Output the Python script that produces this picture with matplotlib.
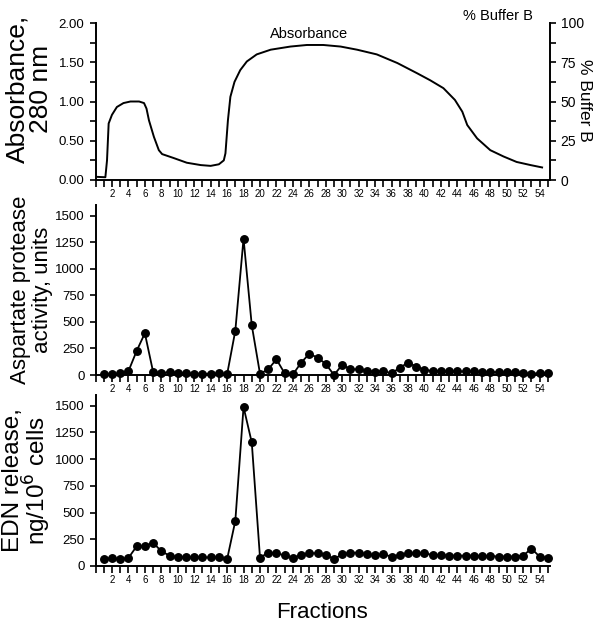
import numpy as np
import matplotlib
matplotlib.use("Agg")
import matplotlib.pyplot as plt
from matplotlib.ticker import MultipleLocator, FixedLocator

plt.rcParams['font.family'] = ['Liberation Sans', 'DejaVu Sans']

# fractions collected
fractions = np.arange(1, 56)

# aspartate protease activity, units
protease = [5, 5, 15, 35, 226, 393, 31, 15, 30, 20,
            15, 12, 12, 12, 15, 5, 417, 1284, 468, 12,
            53, 148, 15, 5, 116, 200, 163, 104, 0, 97,
            53, 53, 38, 31, 38, 15, 69, 116, 79, 48,
            38, 38, 33, 33, 33, 33, 30, 30, 25, 25,
            25, 20, 10, 20, 15]

# EDN release, ng/10^6 cells
edn = [63, 75, 63, 75, 184, 184, 219, 138, 97, 84,
       80, 80, 80, 80, 80, 63, 422, 1488, 1156, 78,
       125, 119, 100, 75, 103, 119, 119, 103, 66, 109,
       125, 125, 109, 103, 109, 88, 103, 119, 119, 119,
       103, 103, 97, 97, 97, 97, 94, 94, 88, 88,
       88, 97, 163, 88, 75]

# absorbance trace (280 nm)
abs_x = [0.2, 1.2, 1.4, 1.6, 2.0, 2.6, 3.4, 4.25, 5.3, 5.9, 6.2, 6.5, 7.1, 7.7,
         8.1, 9.5, 11.1, 12.8, 14.0, 15.0, 15.6, 15.8, 16.1, 16.4, 16.9, 17.6,
         18.4, 19.6, 21.3, 23.7, 25.7, 27.7, 29.8, 31.8, 34.2, 36.7, 39.1, 40.7,
         42.3, 43.7, 44.6, 45.2, 46.4, 48.0, 49.6, 51.2, 52.9, 54.3]
abs_y = [0.04, 0.035, 0.25, 0.72, 0.83, 0.93, 0.98, 1.0, 1.0, 0.98, 0.91, 0.76,
         0.55, 0.38, 0.33, 0.28, 0.22, 0.19, 0.18, 0.20, 0.25, 0.34, 0.76, 1.06,
         1.25, 1.40, 1.51, 1.60, 1.66, 1.70, 1.72, 1.72, 1.70, 1.66, 1.60, 1.49,
         1.36, 1.27, 1.17, 1.02, 0.87, 0.70, 0.53, 0.38, 0.30, 0.23, 0.19, 0.16]

W, H = 602, 622
fig = plt.figure(figsize=(W / 100, H / 100), dpi=100)

left = 95.5 / W
width = 454 / W
ax1 = fig.add_axes([left, 1 - 180 / H, width, 157 / H])
ax2 = fig.add_axes([left, 1 - 375 / H, width, 170 / H])
ax3 = fig.add_axes([left, 1 - 566 / H, width, 171 / H])

label_x = -0.094  # right edge of the two-line y labels


def style_x(ax):
    ax.set_xlim(0, 55.2)
    ax.xaxis.set_major_locator(FixedLocator(np.arange(2, 55, 2)))
    ax.xaxis.set_minor_locator(FixedLocator(np.arange(0, 56, 1)))
    ax.tick_params(axis='x', which='both', direction='out', length=5,
                   width=1.2, labelsize=7, pad=1.5)
    ax.tick_params(axis='y', which='both', direction='out', length=4,
                   width=1.2, labelsize=9.5, pad=4)
    for s in ['top', 'right']:
        ax.spines[s].set_visible(False)
    for s in ['left', 'bottom']:
        ax.spines[s].set_linewidth(1.4)


# top: absorbance
ax1.plot(abs_x, abs_y, color='black', lw=1.4)
ax1.set_ylim(0, 2)
ax1.set_yticks([0, 0.5, 1.0, 1.5, 2.0])
ax1.set_yticklabels(['0.00', '0.50', '1.00', '1.50', '2.00'])
ax1.yaxis.set_minor_locator(MultipleLocator(0.25))
style_x(ax1)
ax1.set_ylabel('Absorbance,\n280 nm', fontsize=19, linespacing=0.95)
ax1.yaxis.set_label_coords(label_x, 0.58)
ax1.text(0.47, 0.93, 'Absorbance', transform=ax1.transAxes, ha='center',
         va='center', fontsize=10.5)

axr = ax1.twinx()
axr.set_ylim(0, 100)
axr.set_yticks([0, 25, 50, 75, 100])
axr.yaxis.set_minor_locator(MultipleLocator(12.5))
axr.tick_params(axis='y', which='both', direction='out', length=4,
                width=1.2, labelsize=10, pad=4)
for s in ['top', 'left', 'bottom']:
    axr.spines[s].set_visible(False)
axr.spines['right'].set_linewidth(1.4)
fig.text(584 / W, 1 - 100 / H, '% Buffer B', rotation=270, ha='center',
         va='center', fontsize=12.5)
fig.text(533 / W, 1 - 16 / H, '% Buffer B', ha='right', va='center',
         fontsize=10.5)

# middle: aspartate protease
ax2.plot(fractions, protease, color='black', lw=1.3, marker='o',
         markersize=5.4, clip_on=False)
ax2.set_ylim(0, 1600)
ax2.set_yticks([0, 250, 500, 750, 1000, 1250, 1500])
style_x(ax2)
ax2.set_ylabel('Aspartate protease\nactivity, units', fontsize=16,
               linespacing=1.05)
ax2.yaxis.set_label_coords(label_x, 0.5)

# bottom: EDN release
ax3.plot(fractions, edn, color='black', lw=1.3, marker='o',
         markersize=5.4, clip_on=False)
ax3.set_ylim(0, 1600)
ax3.set_yticks([0, 250, 500, 750, 1000, 1250, 1500])
style_x(ax3)
ax3.set_ylabel('EDN release,\nng/10$^6$ cells', fontsize=17.5, linespacing=0.88)
ax3.yaxis.set_label_coords(label_x, 0.5)
ax3.set_xlabel('Fractions', fontsize=16, labelpad=12)

fig.savefig('out.png', dpi=100)
